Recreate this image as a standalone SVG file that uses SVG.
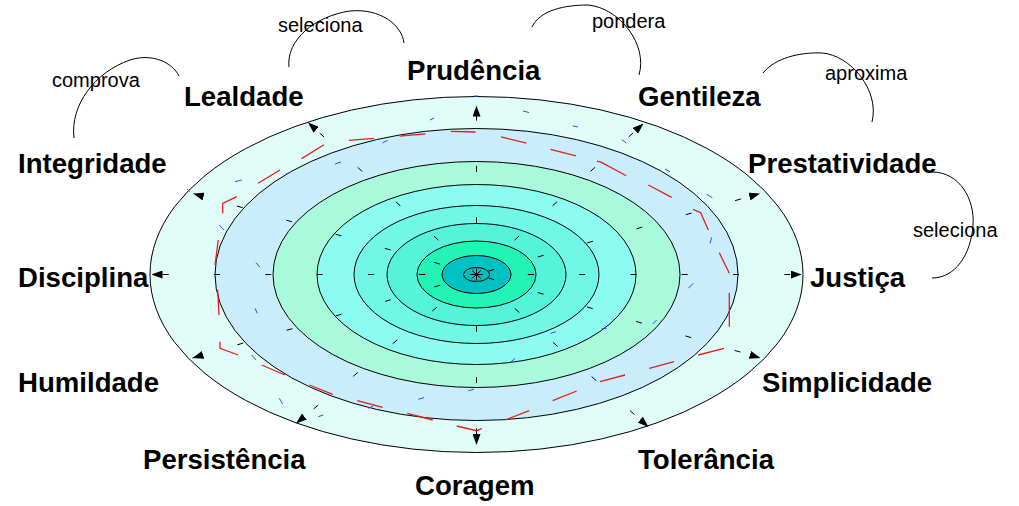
<svg xmlns="http://www.w3.org/2000/svg" width="1019" height="506" viewBox="0 0 1019 506">
<defs>
<style>
.ring{stroke:#000;stroke-width:1}
.spk{stroke:#000;stroke-width:1;fill:none;stroke-dasharray:6 45.3;marker-end:url(#ah)}
.lbl{font-family:"Liberation Sans",Arial,sans-serif;font-weight:bold;font-size:27.6px;fill:#000}
.verb{font-family:"Liberation Sans",Arial,sans-serif;font-size:20px;fill:#000}
.arc{fill:none;stroke:#000;stroke-width:1}
.red{fill:none;stroke:#e41e1e;stroke-width:1.3}
.blue{fill:none;stroke:#2f4fff;stroke-width:1}
</style>
<marker id="ah" viewBox="0 0 11 8" refX="11" refY="4" markerWidth="11" markerHeight="8" markerUnits="userSpaceOnUse" orient="auto">
<path d="M0,0 L11,4 L0,8 z" fill="#000"/>
</marker>
</defs>
<rect width="1019" height="506" fill="#fff"/>
<g id="rings">
<ellipse class="ring" cx="476.5" cy="274.5" rx="326.5" ry="178" fill="#dffcf7"/>
<ellipse class="ring" cx="476.5" cy="274.5" rx="261.5" ry="146" fill="#c9edfb"/>
<ellipse class="ring" cx="476.5" cy="274.5" rx="203.5" ry="113" fill="#a9f9db"/>
<ellipse class="ring" cx="476.5" cy="274.5" rx="159.5" ry="90" fill="#8cfcf0"/>
<ellipse class="ring" cx="476.5" cy="274.5" rx="122.5" ry="69" fill="#70f7e6"/>
<ellipse class="ring" cx="476.5" cy="274.5" rx="89.5" ry="51" fill="#55f3da"/>
<ellipse class="ring" cx="476.5" cy="274.5" rx="59.5" ry="33.5" fill="#22f4b6"/>
<ellipse class="ring" cx="476.5" cy="274.5" rx="34.5" ry="19" fill="#00c1c1"/>
<ellipse class="ring" cx="476.5" cy="274.5" rx="13" ry="7" fill="#00c1c1"/>
</g>
<g id="spokes">
<line class="spk" x1="476.5" y1="274.5" x2="801.7" y2="274.5"/>
<line class="spk" x1="476.5" y1="274.5" x2="760" y2="193.5" stroke-dashoffset="38.8"/>
<line class="spk" x1="476.5" y1="274.5" x2="643.5" y2="123.5"/>
<line class="spk" x1="476.5" y1="274.5" x2="476.5" y2="105.5"/>
<line class="spk" x1="476.5" y1="274.5" x2="308" y2="122.5"/>
<line class="spk" x1="476.5" y1="274.5" x2="193" y2="193.5" stroke-dashoffset="13.3"/>
<line class="spk" x1="476.5" y1="274.5" x2="151.5" y2="274.5"/>
<line class="spk" x1="476.5" y1="274.5" x2="192.5" y2="358" stroke-dashoffset="13.3"/>
<line class="spk" x1="476.5" y1="274.5" x2="296" y2="423.5"/>
<line class="spk" x1="476.5" y1="274.5" x2="476.5" y2="445"/>
<line class="spk" x1="476.5" y1="274.5" x2="648.5" y2="427"/>
<line class="spk" x1="476.5" y1="274.5" x2="760.5" y2="358" stroke-dashoffset="38.8"/>
</g>
<g id="series-red">
<path class="red" d="M450.7,131.4 L475.5,132 M501,136.9 L526.4,143.1 M550.5,149.3 L576,155.8 M597,161.2 L601,162.2 L626.3,175.8 M648.3,185 L671.7,197.3 M693,209.3 L700.7,212.7 L708.3,230 M719.3,252.7 L729.3,273.3 M729.3,292.7 L729.3,326.7 M724,348.3 L698.3,355 M674,361.7 L649.3,368.3 M625,375 L600,381.7 M576.7,391 L552.7,400.7 M529.3,410.7 L505,420 M481.7,428.7 L476.7,430.7 L456.7,426 M432.7,420 L407.3,413.3 M382.7,407.3 L357.3,400.7 M332.7,394.3 L309.3,385 M285,375 L261.7,365 M238.3,355 L220,348.3 L220,341.7 M219,315 L217.7,290 M215,265 L218.3,240 M222.7,213.3 L222.7,203.3 L236.7,196.7 M258,183.3 L280,170 M301.6,158.6 L324,144.8 M348.8,140.3 L374,138.3 M399.7,136.2 L425.5,133.8"/>
</g>
<g id="series-blue">
<path class="blue" d="M474,96 L478,96 M523,111 L529,112.5 M572.6,125.9 L578,127 M621.8,139.6 L626.3,143 M665,169 L670,171.7 M706.7,194.3 L712.3,197.7 M711.7,237.3 L710,243.3 M693.3,283.3 L688.3,288.3 M656.7,320 L652.7,324 M606.7,328.3 L601.7,328.6 M556,331.7 L550.7,333.3 M515,358.3 L510,362.7 M474,389.3 L468.3,390.7 M424,397.7 L418.3,399.3 M373.3,406 L368.3,408.3 M323.3,415 L318.3,416.7 M282.7,404 L279.3,398.3 M256,360 L251.7,355 M257.3,313.3 L255,308.3 M260,267.3 L256,262.7 M224,230 L219.3,225 M190,191.7 L187,189 M235,181.7 L241.7,180 M286,174 L291,172 M335,164 L341,162 M382.5,143 L387.7,140.3 M430,120 L434,118"/>
</g>
<g id="connectors">
<path class="arc" d="M74,138 C70,105 95,72 130,60 C152,53 172,62 179,76"/>
<path class="arc" d="M289,67 C286,40 315,16 350,11 C380,8 402,25 404,43"/>
<path class="arc" d="M532,27 C540,10 565,5 588,5 C620,8 648,45 639,75"/>
<path class="arc" d="M763,73 C775,58 800,52 822,53 C850,55 880,90 872,122"/>
<path class="arc" d="M932,172 C960,172 975,200 973,225 C971,255 955,278 932,278"/>
</g>
<g id="verb-labels">
<text class="verb" x="52" y="87">comprova</text>
<text class="verb" x="278" y="32">seleciona</text>
<text class="verb" x="592" y="28">pondera</text>
<text class="verb" x="825" y="80">aproxima</text>
<text class="verb" x="913" y="237">seleciona</text>
</g>
<g id="node-prudencia"><text class="lbl" x="407" y="80">Prudência</text></g>
<g id="node-lealdade"><text class="lbl" x="184" y="106">Lealdade</text></g>
<g id="node-gentileza"><text class="lbl" x="638" y="106">Gentileza</text></g>
<g id="node-integridade"><text class="lbl" x="18" y="173">Integridade</text></g>
<g id="node-prestatividade"><text class="lbl" x="748" y="173">Prestatividade</text></g>
<g id="node-disciplina"><text class="lbl" x="18" y="287">Disciplina</text></g>
<g id="node-justica"><text class="lbl" x="810" y="287">Justiça</text></g>
<g id="node-humildade"><text class="lbl" x="18" y="392">Humildade</text></g>
<g id="node-simplicidade"><text class="lbl" x="762" y="392">Simplicidade</text></g>
<g id="node-persistencia"><text class="lbl" x="143" y="469">Persistência</text></g>
<g id="node-tolerancia"><text class="lbl" x="638" y="469">Tolerância</text></g>
<g id="node-coragem"><text class="lbl" x="415" y="495">Coragem</text></g>
</svg>
